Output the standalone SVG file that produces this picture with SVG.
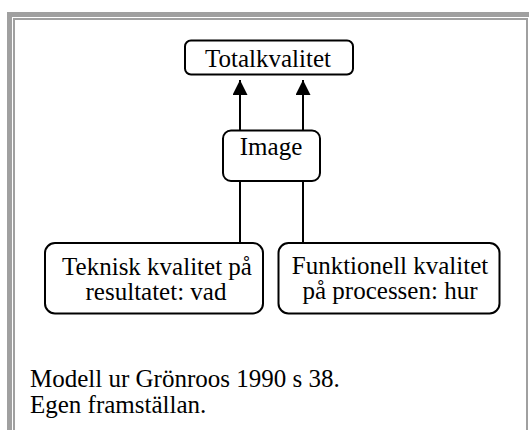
<svg xmlns="http://www.w3.org/2000/svg" width="529" height="430" viewBox="0 0 529 430">
<style>
.box{fill:#fff;stroke:#000;stroke-width:2}
.t{font-family:"Liberation Serif",serif;font-size:25px;fill:#000;text-anchor:middle}
.cap{font-family:"Liberation Serif",serif;font-size:25px;fill:#000}
.ln{stroke:#000;stroke-width:2;fill:none}
.frame{fill:#a0a0a0}
.inner{stroke:#a0a0a0;stroke-width:2;fill:none}
</style>
<defs>
<marker id="ah" viewBox="0 0 15 15" refX="15" refY="7.5" markerWidth="15" markerHeight="15" markerUnits="userSpaceOnUse" orient="auto">
<path d="M0,0 L15,7.5 L0,15 Z" fill="#000"/>
</marker>
</defs>
<rect width="529" height="430" fill="#fff"/>
<g id="frame">
<rect class="frame" x="7" y="12" width="522" height="5"/>
<rect class="frame" x="7" y="12" width="5" height="418"/>
<path class="inner" d="M14,430 L14,19 L527,19 L527,430"/>
</g>
<g id="connectors">
<line class="ln" x1="240" y1="131" x2="240" y2="80" marker-end="url(#ah)"/>
<line class="ln" x1="303" y1="131" x2="303" y2="80" marker-end="url(#ah)"/>
<line class="ln" x1="240" y1="181" x2="240" y2="243"/>
<line class="ln" x1="303" y1="181" x2="303" y2="243"/>
</g>
<g id="totalkvalitet">
<rect class="box" x="185" y="40.5" width="168" height="34" rx="6"/>
<text class="t" x="268" y="66.5">Totalkvalitet</text>
</g>
<g id="image">
<rect class="box" x="223" y="130.5" width="97" height="50.5" rx="8"/>
<text class="t" x="271" y="155">Image</text>
</g>
<g id="teknisk">
<rect class="box" x="45" y="243" width="218" height="70.5" rx="10"/>
<text class="t" x="157" y="275">Teknisk kvalitet på</text>
<text class="t" x="156" y="300">resultatet: vad</text>
</g>
<g id="funktionell">
<rect class="box" x="278.5" y="243" width="221" height="70.5" rx="10"/>
<text class="t" x="390" y="274">Funktionell kvalitet</text>
<text class="t" x="390" y="299">på processen: hur</text>
</g>
<g id="caption">
<text class="cap" x="30" y="386.5">Modell ur Grönroos 1990 s 38.</text>
<text class="cap" x="30" y="412.5">Egen framställan.</text>
</g>
</svg>
